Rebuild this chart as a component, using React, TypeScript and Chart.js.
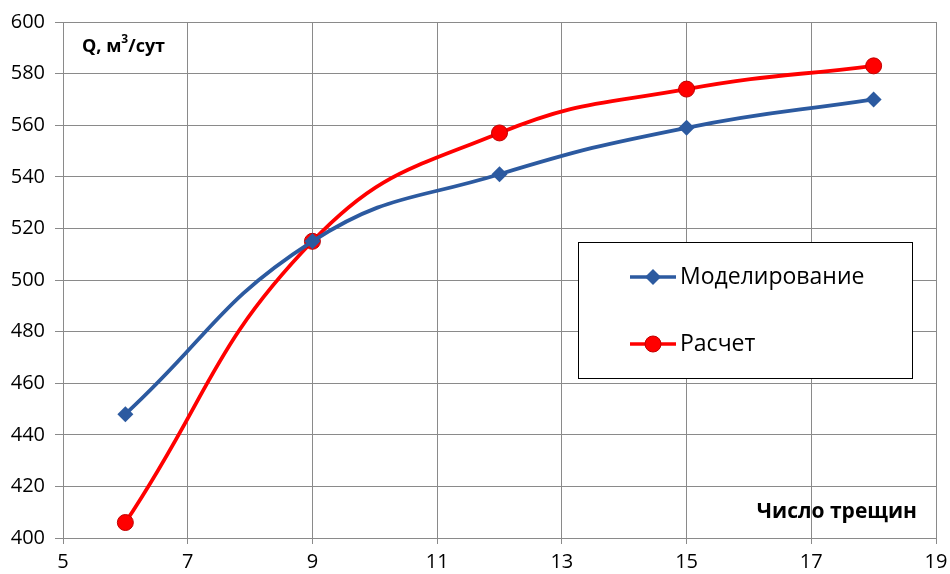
import React, { useEffect, useRef } from "react";
import { Chart, registerables } from "chart.js";

Chart.register(...registerables);

const crackCounts = [6, 9, 12, 15, 18];
const modelingValues = [448, 515, 541, 559, 570];
const calcValues = [406, 515, 557, 574, 583];
const seriesNames = ["Моделирование", "Расчет"];
const xTitle = "Число трещин";

const BLUE = "#2C5AA0";
const RED = "#FF0000";
const FONT = "'Open Sans', 'Liberation Sans', sans-serif";

const overlayPlugin = {
  id: "overlay",
  afterDraw(chart: any) {
    const ctx = chart.ctx as CanvasRenderingContext2D;
    ctx.save();
    ctx.fillStyle = "#000";
    ctx.textBaseline = "middle";
    ctx.textAlign = "left";
    ctx.font = `bold 18px ${FONT}`;
    ctx.fillText("Q, м", 82, 47);
    const w1 = ctx.measureText("Q, м").width;
    ctx.font = `bold 12px ${FONT}`;
    ctx.fillText("3", 82 + w1, 40);
    const w2 = ctx.measureText("3").width;
    ctx.font = `bold 18px ${FONT}`;
    ctx.fillText("/сут", 82 + w1 + w2, 47);

    ctx.font = `bold 21px ${FONT}`;
    ctx.textAlign = "right";
    ctx.fillText(xTitle, 917, 512);

    ctx.fillStyle = "#fff";
    ctx.fillRect(578, 242, 334, 136);
    ctx.strokeStyle = "#000";
    ctx.lineWidth = 1;
    ctx.strokeRect(578.5, 242.5, 334, 136);

    const entries = [
      { y: 277, color: BLUE, shape: "diamond", label: seriesNames[0] },
      { y: 344, color: RED, shape: "circle", label: seriesNames[1] },
    ];
    for (const e of entries) {
      ctx.strokeStyle = e.color;
      ctx.lineWidth = 3.5;
      ctx.beginPath();
      ctx.moveTo(630, e.y);
      ctx.lineTo(676, e.y);
      ctx.stroke();
      ctx.fillStyle = e.color;
      if (e.shape === "diamond") {
        ctx.beginPath();
        ctx.moveTo(653, e.y - 8);
        ctx.lineTo(661, e.y);
        ctx.lineTo(653, e.y + 8);
        ctx.lineTo(645, e.y);
        ctx.closePath();
        ctx.fill();
      } else {
        ctx.beginPath();
        ctx.arc(653, e.y, 8, 0, Math.PI * 2);
        ctx.fill();
        ctx.strokeStyle = "#C00000";
        ctx.lineWidth = 1;
        ctx.stroke();
      }
      ctx.fillStyle = "#000";
      ctx.font = `23px ${FONT}`;
      ctx.textAlign = "left";
      ctx.textBaseline = "middle";
      ctx.fillText(e.label, 680, e.y);
    }
    ctx.restore();
  },
};

export default function App() {
  const ref = useRef<HTMLCanvasElement | null>(null);
  useEffect(() => {
    if (!ref.current) return;
    const chart = new Chart(ref.current, {
      type: "line",
      data: {
        datasets: [
          {
            label: seriesNames[0],
            data: crackCounts.map((x, i) => ({ x, y: modelingValues[i] })),
            borderColor: BLUE,
            backgroundColor: BLUE,
            borderWidth: 3.8,
            pointStyle: "rectRot",
            pointRadius: 8,
            pointBorderWidth: 0,
            tension: 0.45,
          },
          {
            label: seriesNames[1],
            data: crackCounts.map((x, i) => ({ x, y: calcValues[i] })),
            borderColor: RED,
            backgroundColor: RED,
            pointBorderColor: "#C00000",
            borderWidth: 3.8,
            pointStyle: "circle",
            pointRadius: 8,
            pointBorderWidth: 1,
            tension: 0.45,
          },
        ],
      },
      options: {
        animation: false,
        responsive: false,
        maintainAspectRatio: false,
        layout: { padding: { top: 22, right: 14, left: 0, bottom: 0 } },
        plugins: {
          legend: { display: false },
          tooltip: { enabled: false },
        },
        scales: {
          x: {
            type: "linear",
            min: 5,
            max: 19,
            ticks: {
              stepSize: 2,
              color: "#000",
              font: { family: FONT, size: 20 },
              padding: 6,
            },
            grid: { color: "#8a8a8a", lineWidth: 1, tickLength: 6 },
            border: { color: "#8a8a8a" },
            afterFit: (s: any) => {
              s.height = 36;
              s.paddingRight = 0;
              s.paddingLeft = 0;
            },
          },
          y: {
            min: 400,
            max: 600,
            ticks: {
              stepSize: 20,
              color: "#000",
              font: { family: FONT, size: 20 },
              padding: 10,
            },
            grid: { color: "#8a8a8a", lineWidth: 1, tickLength: 8 },
            border: { color: "#8a8a8a" },
            afterFit: (s: any) => {
              s.width = 63;
              s.paddingTop = 0;
              s.paddingBottom = 0;
            },
          },
        },
      },
      plugins: [overlayPlugin],
    });
    return () => chart.destroy();
  }, []);
  return (
    <div style={{ position: "fixed", left: 0, top: 0, width: 950, height: 574, background: "#fff" }}>
      <canvas ref={ref} width={950} height={574} style={{ width: 950, height: 574 }} />
    </div>
  );
}
